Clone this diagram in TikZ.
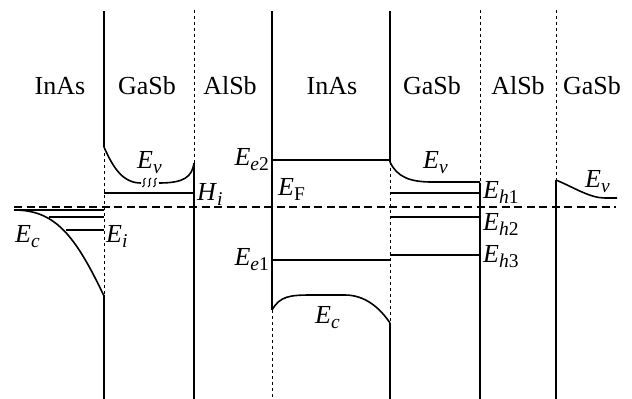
\documentclass[tikz,border=0pt]{standalone}
\usepackage{fontspec}
\setmainfont{Liberation Serif}
\newcommand\sbs[1]{\raisebox{-5pt}{\fontsize{19.5}{20}\selectfont #1}}
\newcommand\En[1]{\textit{E}\sbs{#1}}
\begin{document}
\begin{tikzpicture}[x=1pt,y=-1pt,
  every node/.style={inner sep=0pt, font=\fontsize{26}{30}\selectfont},
  wall/.style={line width=1.8pt},
  thindash/.style={line width=1pt, dash pattern=on 3pt off 3pt},
  level/.style={line width=1.3pt},
  band/.style={line width=1.6pt},
  fermi/.style={line width=1.3pt, dash pattern=on 8pt off 4.5pt},
  squig/.style={line width=1.1pt}]
\useasboundingbox (0,0) rectangle (632,399);

% vertical interfaces
\draw[wall] (104,11) -- (104,147);
\draw[thindash] (104,147) -- (104,295);
\draw[wall] (104,295) -- (104,399);

\draw[thindash] (194,10) -- (194,163);
\draw[wall] (194,163) -- (194,399);

\draw[wall] (272,11) -- (272,310);
\draw[thindash] (272,310) -- (272,399);

\draw[wall] (390,11) -- (390,162);
\draw[thindash] (390,162) -- (390,323);
\draw[wall] (390,323) -- (390,399);

\draw[thindash] (480,10) -- (480,183);
\draw[wall] (480,183) -- (480,399);

\draw[thindash] (556,10) -- (556,180);
\draw[wall] (556,180) -- (556,399);

% Fermi level
\draw[fermi] (14,207) -- (616,207);

% left InAs
\draw[band] (14,210) .. controls (55,210) and (75,235) .. (104,296);
\draw[level] (14,210) -- (104,210);
\draw[level] (49,217) -- (104,217);
\draw[level] (66,230) -- (104,230);

% left GaSb
\draw[band] (104,147) .. controls (114,170) and (124,183) .. (141,183);
\draw[band] (159,183) .. controls (184,183) and (192,177) .. (194,163);
\foreach \x in {144,149.5,155}
  \draw[squig] (\x-1.5,187) .. controls (\x+2.5,185.5) and (\x-2.5,179.5) .. (\x+1.5,178);
\draw[level] (104,193) -- (194,193);

% middle InAs
\draw[level] (272,160) -- (390,160);
\draw[level] (272,260) -- (390,260);
\draw[band] (272,310) .. controls (280,296) and (290,295) .. (312,295) -- (345,295)
  .. controls (365,295) and (380,308) .. (390,323);

% middle GaSb
\draw[band] (390,162) .. controls (397,177) and (410,182) .. (432,182) -- (480,182);
\draw[level] (390,193) -- (480,193);
\draw[level] (390,217) -- (480,217);
\draw[level] (390,255) -- (480,255);

% right GaSb
\draw[band] (556,180) .. controls (575,188) and (590,198) .. (605,198) -- (617,198);

% material labels
\node[anchor=base] (m1) at (60,94) {InAs};
\node[anchor=base] (m2) at (147,94) {GaSb};
\node[anchor=base] (m3) at (230,94) {AlSb};
\node[anchor=base] (m4) at (332,94) {InAs};
\node[anchor=base] (m5) at (432,94) {GaSb};
\node[anchor=base] (m6) at (518,94) {AlSb};
\node[anchor=base] (m7) at (592,94) {GaSb};

% energy labels
\node[anchor=base west] (lEc) at (15,242) {\En{\textit{c}}};
\node[anchor=base west] (lEi) at (106,242) {\En{\textit{i}}};
\node[anchor=base west] (lEv1) at (137,168) {\En{\textit{v}}};
\node[anchor=base west] (lHi) at (197,200) {\textit{H}\sbs{\textit{i}}};
\node[anchor=base east] (lEe2) at (269,165) {\En{\textit{e}2}};
\node[anchor=base west] (lEF) at (278,195) {\En{F}};
\node[anchor=base east] (lEe1) at (269,265) {\En{\textit{e}1}};
\node[anchor=base west] (lEc2) at (315,323) {\En{\textit{c}}};
\node[anchor=base west] (lEv2) at (423,168) {\En{\textit{v}}};
\node[anchor=base west] (lEh1) at (483,198) {\En{\textit{h}1}};
\node[anchor=base west] (lEh2) at (483,230) {\En{\textit{h}2}};
\node[anchor=base west] (lEh3) at (483,262) {\En{\textit{h}3}};
\node[anchor=base west] (lEv3) at (585,187) {\En{\textit{v}}};
\end{tikzpicture}
\end{document}
